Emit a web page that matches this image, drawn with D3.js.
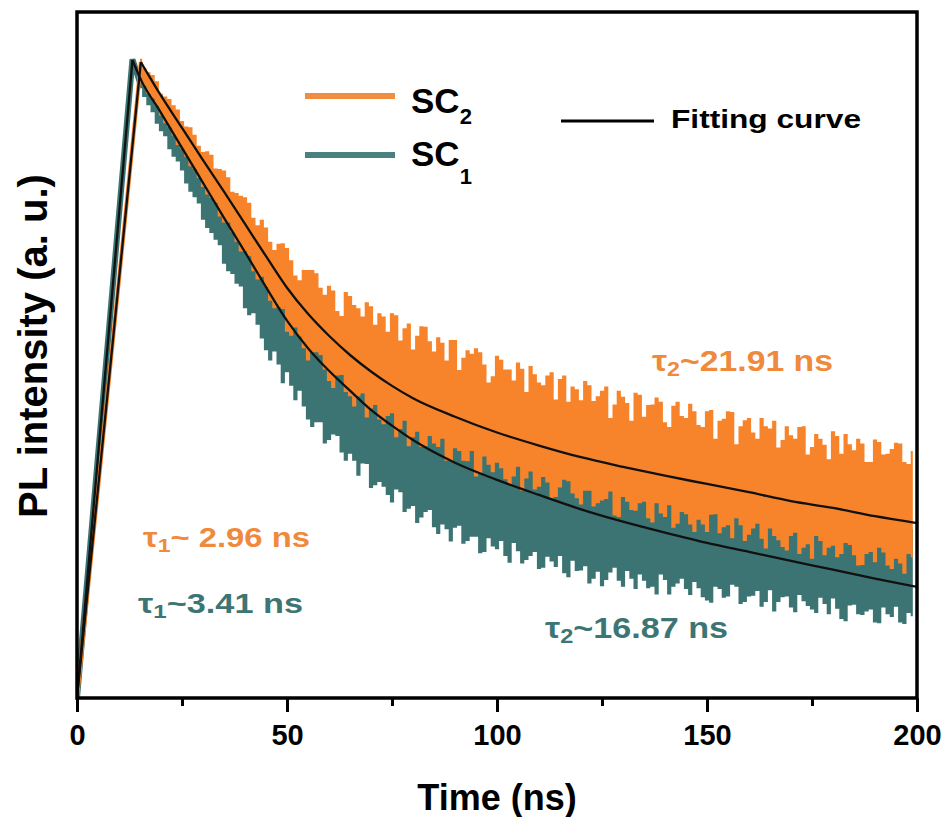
<!DOCTYPE html>
<html>
<head>
<meta charset="utf-8">
<script src="https://cdn.jsdelivr.net/npm/d3@7"></script>
<style>
body { margin: 0; background: #fff; }
text { font-family: "Liberation Sans", Arial, sans-serif; font-weight: bold; }
</style>
</head>
<body>
<script>
// time axis ticks (ns)
var majorTicks = [0, 50, 100, 150, 200];
var minorTicks = [25, 75, 125, 175];

// decay samples, every 1 ns from 15 to 199 ns (PL intensity, a.u. 0-1000)
// each trace is noisy, so it is kept as an upper and a lower envelope
var sampleTimes = d3.range(15, 200, 1);

var sc2Upper = [
  932,918,912,908,899,881,877,873,864,858,841,833,832,821,805,796,797,792,772,771,
  769,759,738,736,732,730,722,700,689,697,686,665,653,662,663,656,638,616,609,624,
  624,624,619,598,588,601,594,564,557,592,586,573,568,556,577,571,544,561,556,534,
  561,558,521,539,546,508,528,542,541,520,505,526,518,492,522,522,478,496,507,502,
  510,504,486,460,469,499,493,479,479,463,489,480,446,484,472,460,456,470,475,435,
  465,470,432,454,450,434,462,456,433,440,448,454,408,428,448,439,430,404,445,442,
  410,427,428,438,432,402,395,426,432,411,408,429,418,398,395,418,420,378,404,407,
  418,417,370,396,405,408,387,378,408,396,393,404,365,376,396,383,378,395,396,355,
  366,385,378,369,348,389,382,356,385,370,361,378,371,344,344,377,373,355,356,363,
  372,371,344,341,360];
var sc2Lower = [
  904,892,881,874,863,849,838,832,820,806,801,789,775,771,758,745,734,729,722,702,
  693,693,679,665,651,651,644,622,610,614,599,579,568,570,567,534,528,540,527,510,
  492,504,504,500,479,462,452,470,471,446,440,425,440,444,409,422,427,406,399,411,
  415,380,392,404,367,380,388,366,367,382,371,366,378,346,345,364,360,346,345,360,
  323,328,352,340,329,343,335,319,311,323,337,302,320,330,304,308,322,314,291,293,
  307,318,316,298,291,282,302,302,279,284,288,290,301,266,264,293,286,274,273,284,
  286,262,256,284,269,264,281,248,254,271,268,253,242,260,253,242,267,268,240,249,
  252,233,262,252,229,238,247,254,232,218,247,236,230,220,215,236,241,210,219,224,
  203,236,229,208,219,222,205,210,226,223,208,193,194,210,213,198,219,212,193,188,
  203,196,181,210,205];
var sc1Upper = [
  914,905,896,887,877,868,859,850,840,831,821,812,802,793,783,774,765,756,746,737,
  728,719,709,700,690,681,672,663,653,644,634,625,616,607,597,589,580,573,565,558,
  550,544,537,531,524,518,512,507,501,496,490,485,480,476,471,467,462,458,453,449,
  445,442,438,435,431,428,424,422,419,416,413,411,408,406,403,401,398,396,393,391,
  388,386,384,382,379,377,375,373,371,369,367,366,364,362,360,358,356,355,353,351,
  349,348,346,345,343,342,340,339,337,336,334,333,331,330,328,327,326,325,323,322,
  320,319,318,317,315,314,313,312,310,309,308,307,306,305,303,302,301,300,298,297,
  296,295,294,293,291,290,289,288,286,285,283,282,281,280,278,277,276,275,274,273,
  272,271,270,269,268,267,266,265,263,262,261,260,259,258,256,255,254,253,252,251,
  250,249,248,247,246];
var sc1Lower = [
  889,876,864,854,837,826,819,800,789,782,769,750,738,730,721,697,685,678,668,660,
  633,622,618,604,600,568,558,561,544,524,507,492,505,486,459,475,455,434,448,425,
  406,395,402,402,371,376,384,382,358,346,356,346,324,342,341,306,310,315,308,296,
  285,304,300,271,276,280,255,263,271,274,249,239,253,246,228,248,251,225,229,235,
  235,211,213,233,221,217,229,207,197,226,214,196,201,207,213,188,190,206,199,191,
  207,182,176,200,185,186,192,167,174,184,163,172,183,190,171,162,185,174,159,180,
  171,160,162,151,180,172,151,162,167,174,159,150,169,160,147,142,139,162,159,146,
  148,165,162,137,140,148,149,156,133,140,157,126,140,147,148,132,125,150,141,134,
  129,124,146,137,122,145,130,115,112,135,136,122,121,126,129,110,109,132,122,118,
  133,110,108,124,119];

// rising edge of the raw traces
var sc2RiseT = [0, 15.2];
var sc2RiseV = [0, 927];
var sc1RiseT = [0, 13.2, 15];
var sc1RiseV = [0, 931, 897];

// fitting curves
var sc2FitT = [0,15.2,20,25,30,35,40,45,50,55,60,65,70,75,80,90,100,110,120,130,140,150,160,170,180,190,200];
var sc2FitV = [0,927,878,831,784,738,691,644,598,560,528,500,476,455,437,410,387,368,351,337,324,312,300,287,277,265,255];
var sc1FitT = [0,13.2,15,20,25,30,35,40,45,50,55,60,65,70,75,80,90,100,110,120,130,140,150,160,170,180,190,200];
var sc1FitV = [0,930,904,853,802,751,700,650,599,550,510,477,448,420,397,376,343,318,296,275,257,241,226,213,200,187,174,162];

var orange = '#f7842a', teal = '#3b7472';
var orangeText = '#ef8a3c', tealText = '#3d7574';

var svg = d3.select('body').append('svg')
  .attr('width', 948)
  .attr('height', 817);

var x = d3.scaleLinear().domain([0, 200]).range([77, 917]);
var y = d3.scaleLinear().domain([0, 1000]).range([698, 12]);

svg.append('defs').append('clipPath').attr('id', 'plotclip')
  .append('rect')
  .attr('x', 77).attr('y', 12)
  .attr('width', 840).attr('height', 686);

var plot = svg.append('g').attr('clip-path', 'url(#plotclip)');

function zip(ts, vs) {
  return ts.map(function(t, i) { return {t: t, v: vs[i]}; });
}
function band(upper, lower) {
  return sampleTimes.map(function(t, i) { return {t: t, hi: upper[i], lo: lower[i]}; });
}

var area = d3.area().curve(d3.curveStep)
  .x(function(d) { return x(d.t); })
  .y0(function(d) { return y(d.lo); })
  .y1(function(d) { return y(d.hi); });
var line = d3.line()
  .x(function(d) { return x(d.t); })
  .y(function(d) { return y(d.v); });
var smooth = d3.line().curve(d3.curveMonotoneX)
  .x(function(d) { return x(d.t); })
  .y(function(d) { return y(d.v); });

// SC1 (teal) underneath
plot.append('path').datum(band(sc1Upper, sc1Lower))
  .attr('d', area).attr('fill', teal);
plot.append('path').datum(zip(sc1RiseT, sc1RiseV))
  .attr('d', line).attr('fill', 'none')
  .attr('stroke', teal).attr('stroke-width', 6);

// SC2 (orange) on top
plot.append('path').datum(band(sc2Upper, sc2Lower))
  .attr('d', area).attr('fill', orange);
plot.append('path').datum(zip(sc2RiseT, sc2RiseV))
  .attr('d', line).attr('fill', 'none')
  .attr('stroke', orange).attr('stroke-width', 4);

// fits: straight rise + smooth decay
[[sc1FitT, sc1FitV], [sc2FitT, sc2FitV]].forEach(function(f) {
  var pts = zip(f[0], f[1]);
  plot.append('path').datum(pts.slice(0, 2))
    .attr('d', line).attr('fill', 'none')
    .attr('stroke', '#111').attr('stroke-width', 2.3);
  plot.append('path').datum(pts.slice(1))
    .attr('d', smooth).attr('fill', 'none')
    .attr('stroke', '#111').attr('stroke-width', 2.3);
});

// axes
var xAxis = svg.append('g').attr('transform', 'translate(0,698)')
  .call(d3.axisBottom(x).tickValues(majorTicks).tickSize(14).tickPadding(12)
    .tickFormat(d3.format('d')));
xAxis.select('.domain').remove();
xAxis.selectAll('line').attr('stroke', '#000').attr('stroke-width', 3);
xAxis.selectAll('text').attr('fill', '#000').style('font-size', '29px')
  .style('font-family', '"Liberation Sans", Arial, sans-serif').style('font-weight', 'bold');

var xMinor = svg.append('g').attr('transform', 'translate(0,698)')
  .call(d3.axisBottom(x).tickValues(minorTicks).tickSize(8).tickFormat(''));
xMinor.select('.domain').remove();
xMinor.selectAll('line').attr('stroke', '#000').attr('stroke-width', 3);

svg.append('rect')
  .attr('x', 77).attr('y', 12)
  .attr('width', 840).attr('height', 686)
  .attr('fill', 'none').attr('stroke', '#000').attr('stroke-width', 3.5);

svg.append('text')
  .attr('x', 497).attr('y', 810)
  .attr('text-anchor', 'middle')
  .style('font-size', '36px')
  .text('Time (ns)');

svg.append('text')
  .attr('transform', 'translate(47,346) rotate(-90)')
  .attr('text-anchor', 'middle')
  .style('font-size', '40px')
  .text('PL intensity (a. u.)');

// legend
function subLabel(g, xPos, yPos, main, sub, size, subSize, drop) {
  var t = g.append('text').attr('x', xPos).attr('y', yPos).style('font-size', size + 'px');
  t.append('tspan').text(main);
  t.append('tspan').attr('dy', drop).style('font-size', subSize + 'px').text(sub);
  return t;
}
var legend = svg.append('g');
legend.append('line').attr('x1', 305).attr('x2', 395).attr('y1', 96).attr('y2', 96)
  .attr('stroke', '#f08d40').attr('stroke-width', 6);
legend.append('line').attr('x1', 305).attr('x2', 395).attr('y1', 155).attr('y2', 155)
  .attr('stroke', '#4a807e').attr('stroke-width', 6);
subLabel(legend, 411, 113, 'SC', '2', 35, 22, 11);
subLabel(legend, 411, 166, 'SC', '1', 35, 22, 18);
legend.append('line').attr('x1', 561).attr('x2', 654).attr('y1', 121).attr('y2', 121)
  .attr('stroke', '#000').attr('stroke-width', 3);
legend.append('text').attr('x', 671).attr('y', 128)
  .style('font-size', '25px')
  .attr('textLength', 190).attr('lengthAdjust', 'spacingAndGlyphs')
  .text('Fitting curve');

// lifetime annotations
function tauLabel(xPos, yPos, sub, rest, color, size, width) {
  var t = svg.append('text').attr('x', xPos).attr('y', yPos)
    .attr('fill', color).style('font-size', size + 'px')
    .attr('textLength', width).attr('lengthAdjust', 'spacingAndGlyphs');
  t.append('tspan').text('\u03c4');
  t.append('tspan').attr('dy', 5).style('font-size', Math.round(size * 0.7) + 'px').text(sub);
  t.append('tspan').attr('dy', -5).text(rest);
}
tauLabel(652, 371, '2', '~21.91 ns', orangeText, 29, 181);
tauLabel(545, 638, '2', '~16.87 ns', tealText, 29, 183);
tauLabel(143, 547, '1', '~ 2.96 ns', orangeText, 27, 167);
tauLabel(138, 613, '1', '~3.41 ns', tealText, 27, 165);
</script>
</body>
</html>
